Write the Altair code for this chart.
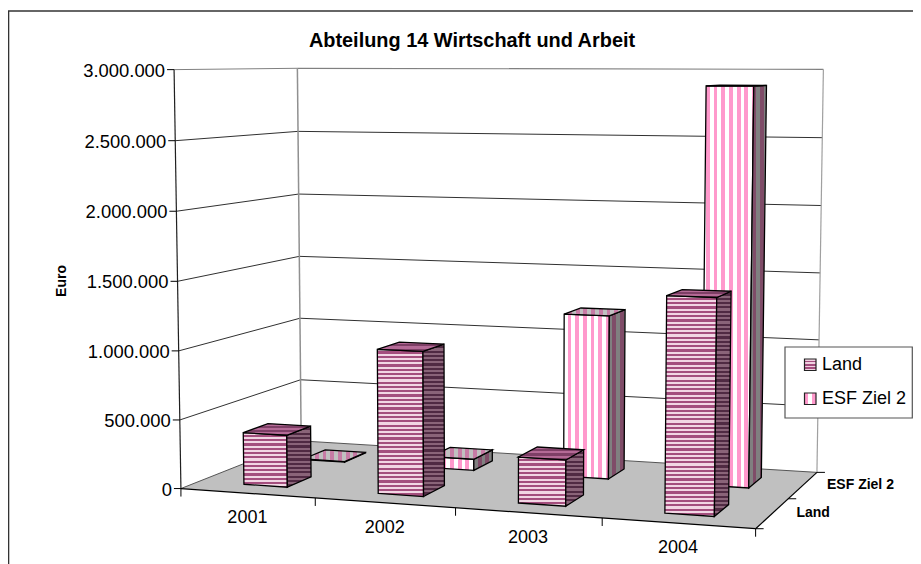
import numpy as np
import pandas as pd
import altair as alt

TITLE = "Abteilung 14 Wirtschaft und Arbeit"
YEARS = ["2001", "2002", "2003", "2004"]
SERIES = ["Land", "ESF Ziel 2"]
LAND = [380000, 1035000, 325000, 1490000]
ESF = [4000, 85000, 1210000, 2885000]
VALUE_TICKS = [0, 500000, 1000000, 1500000, 2000000, 2500000, 3000000]
VALUE_LABELS = ["0", "500.000", "1.000.000", "1.500.000", "2.000.000", "2.500.000", "3.000.000"]
VMAX = 3000000
BAR_HALF_U = 0.041
BAR_HALF_V = 0.10
LAND_V = 0.24
ESF_V = 0.74
FONT = "Liberation Sans"

# camera calibration: plot-box position (u, v, z) -> position on the page
CAL = [
    (0, 0, 0, 181, 488.7), (0, 0, 1, 174, 70), (0, 1, 0, 301, 441), (0, 1, 1, 297.5, 68),
    (1, 1, 0, 817, 472), (1, 1, 1, 823.3, 69), (1, 0, 0, 756, 528.7),
    (.25, 0, 0, 315, 497.7), (.5, 0, 0, 456, 507.8), (.75, 0, 0, 601.7, 518),
    (0, 0, .5, 177.5, 281), (0, 1, .5, 299.5, 256.5), (1, 1, .5, 820, 273.7),
]
A, b = [], []
for u, v, z, X, Y in CAL:
    A.append([u, v, z, 1, 0, 0, 0, 0, -X * u, -X * v, -X * z]); b.append(X)
    A.append([0, 0, 0, 0, u, v, z, 1, -Y * u, -Y * v, -Y * z]); b.append(Y)
P = np.linalg.lstsq(np.array(A, float), np.array(b, float), rcond=None)[0]


def proj(u, v, z):
    w = P[8] * u + P[9] * v + P[10] * z + 1
    return (P[0] * u + P[1] * v + P[2] * z + P[3]) / w, (P[4] * u + P[5] * v + P[6] * z + P[7]) / w


X_SCALE = alt.Scale(domain=[8, 913], nice=False, zero=False)
Y_SCALE = alt.Scale(domain=[8, 564], reverse=True, nice=False, zero=False)
XE = alt.X("x:Q", scale=X_SCALE, axis=None)
YE = alt.Y("y:Q", scale=Y_SCALE, axis=None)


def stripes(c1, c2, extent, period, vertical):
    n = max(1, int(np.ceil(extent / period)))
    f = period / max(extent, 1e-6)
    stops = []
    for i in range(n):
        a, m, e = i * f, (i + .5) * f, (i + 1) * f
        for off, col in [(a, c1), (m, c1), (m, c2), (e, c2)]:
            if off <= 1:
                stops.append({"offset": round(off, 4), "color": col})
    if stops[-1]["offset"] < 1:
        stops.append({"offset": 1, "color": stops[-1]["color"]})
    g = {"gradient": "linear", "stops": stops, "x1": 0, "y1": 0, "x2": 1 if vertical else 0, "y2": 0 if vertical else 1}
    return g


def poly(points, fill, stroke="#000000", sw=1.3):
    df = pd.DataFrame({"x": [p[0] for p in points], "y": [p[1] for p in points], "i": range(len(points))})
    kw = {"stroke": stroke, "strokeWidth": sw} if stroke else {"strokeOpacity": 0}
    return alt.Chart(df).mark_line(fill=fill, interpolate="linear-closed", clip=False, **kw).encode(
        x=XE, y=YE, order=alt.Order("i:Q"))


def seg(p, q, color, sw=1.0):
    df = pd.DataFrame({"x": [p[0], q[0]], "y": [p[1], q[1]], "i": [0, 1]})
    return alt.Chart(df).mark_line(color=color, strokeWidth=sw).encode(x=XE, y=YE, order=alt.Order("i:Q"))


def text(s, x, y, size=18, bold=False, align="center", dx=0, dy=0, angle=0):
    df = pd.DataFrame({"x": [x], "y": [y], "t": [s]})
    kw = {"angle": angle} if angle else {}
    return alt.Chart(df).mark_text(font=FONT, fontSize=size, fontWeight="bold" if bold else "normal",
                                   align=align, baseline="middle", dx=dx, dy=dy, color="#000000", **kw).encode(
        x=XE, y=YE, text="t:N")


layers = []
# frame
layers.append(seg((8.5, 11), (8.5, 564), "#333333", 1.6))
layers.append(seg((8, 11), (913, 11), "#333333", 1.4))
# floor
layers.append(poly([proj(0, 0, 0), proj(1, 0, 0), proj(1, 1, 0), proj(0, 1, 0)], "#C0C0C0", None))
# grid lines
for t in VALUE_TICKS:
    z = t / VMAX
    col = "#808080" if t == VMAX else ("#555555" if t == 0 else "#303030")
    layers.append(seg(proj(0, 0, z), proj(0, 1, z), col, 1))
    layers.append(seg(proj(0, 1, z), proj(1, 1, z), col, 1.2 if t == VMAX else 1))
layers.append(seg(proj(0, 1, 0), proj(0, 1, 1), "#909090", 1.5))
layers.append(seg(proj(1, 1, 0), proj(1, 1, 1), "#A0A0A0", 1.2))
layers.append(seg(proj(0, 0, 0), proj(0, 0, 1), "#202020", 1.2))
layers.append(seg(proj(0, 0, 0), proj(1, 0, 0), "#000000", 1.2))
layers.append(seg(proj(1, 0, 0), proj(1, 1, 0), "#000000", 1.2))

LAND_COL = dict(front=("#F2D6E4", "#A44E7E"), side=("#8A6479", "#502A43"), top=("#B46A96", "#7E3F66"))
ESF_COL = dict(front=("#FFFFFF", "#FF99CC"), side=("#808080", "#7F4C68"), top=("#C0C0C0", "#C77BA5"))


def bar(i, vc, val, cols, vertical, period):
    u0, u1 = (i + .5) * .25 - BAR_HALF_U + .001, (i + .5) * .25 + BAR_HALF_U + .001
    v0, v1 = vc - BAR_HALF_V, vc + BAR_HALF_V
    z = val / VMAX
    out = []
    faces = {
        "front": [proj(u0, v0, 0), proj(u1, v0, 0), proj(u1, v0, z), proj(u0, v0, z)],
        "side": [proj(u1, v0, 0), proj(u1, v1, 0), proj(u1, v1, z), proj(u1, v0, z)],
        "top": [proj(u0, v0, z), proj(u1, v0, z), proj(u1, v1, z), proj(u0, v1, z)],
    }
    for name, pts in faces.items():
        xs, ys = [p[0] for p in pts], [p[1] for p in pts]
        extent = (max(xs) - min(xs)) if vertical else (max(ys) - min(ys))
        out.append(poly(pts, stripes(*cols[name], extent, period, vertical)))
    return out


for i, val in enumerate(ESF):
    layers += bar(i, ESF_V, val, ESF_COL, True, 7.7)
for i, val in enumerate(LAND):
    layers += bar(i, LAND_V, val, LAND_COL, False, 4.3)

# value axis
for t, lab in zip(VALUE_TICKS, VALUE_LABELS):
    x, y = proj(0, 0, t / VMAX)
    layers.append(seg((x - 7, y), (x, y), "#000000", 1))
    layers.append(text(lab, x, y, 18.4, align="right", dx=-9, dy=1))
# category axis
for k in range(5):
    x, y = proj(k * .25, 0, 0)
    layers.append(seg((x, y), (x, y + 8), "#000000", 1))
for i, lab in enumerate(YEARS):
    x, y = proj((i + .5) * .25, 0, 0)
    layers.append(text(lab, x, y, 18, dy=25))
# depth axis
for v in (0, .5, 1):
    x, y = proj(1, v, 0)
    layers.append(seg((x, y), (x + 8, y), "#000000", 1))
for vc, lab in zip((.25, .75), SERIES):
    x, y = proj(1, vc, 0)
    layers.append(text(lab, x, y, 14, bold=True, align="left", dx=24, dy=0))

layers.append(text(TITLE, 472, 41, 19.9, bold=True))
layers.append(text("Euro", 62, 281, 14, bold=True, angle=270))

# legend
layers.append(poly([(785, 347), (912.3, 347), (912.3, 418), (785, 418)], "#FFFFFF", "#555555", 1.2))
layers.append(poly([(804.5, 359), (816, 359), (816, 370.5), (804.5, 370.5)],
                   stripes("#F0D0E0", "#A44E7E", 11.5, 3.4, False), "#222222", 1.2))
layers.append(poly([(804.5, 393), (816, 393), (816, 404.5), (804.5, 404.5)],
                   stripes("#FF99CC", "#FFFFFF", 11.5, 7.7, True), "#222222", 1.2))
layers.append(text(SERIES[0], 822, 365, 18, align="left"))
layers.append(text(SERIES[1], 822, 399, 18, align="left"))

chart = alt.layer(*layers).properties(
    width=905, height=556, padding=0, autosize=alt.AutoSizeParams(type="none"), background="#FFFFFF"
).configure_view(stroke=None)
chart.save("out.html", embed_options={"renderer": "svg", "actions": False})
